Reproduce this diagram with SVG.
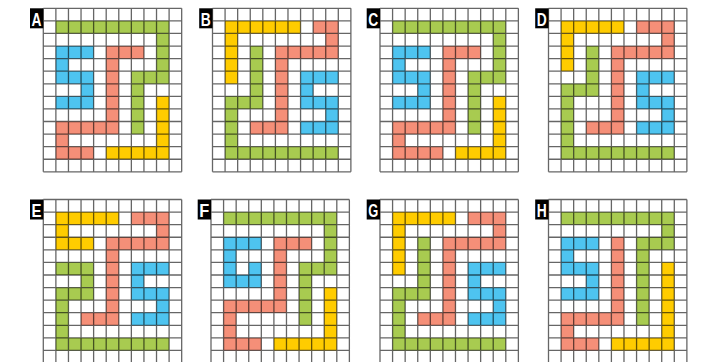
<svg xmlns="http://www.w3.org/2000/svg" xmlns:xlink="http://www.w3.org/1999/xlink" width="707" height="362" viewBox="0 0 707 362">
<style>
.g{fill:#A8CB50}
.b{fill:#4EC4F0}
.s{fill:#F58F78}
.y{fill:#FFCC00}
.grid{fill:none;stroke:#000;stroke-opacity:0.6;stroke-width:1.3}
.lbl{fill:#000}
.lt{fill:#fff;font-family:"Liberation Sans",Arial,sans-serif;font-weight:bold;font-size:19px;text-anchor:middle}
</style>
<defs>
<path id="gridlines" class="grid" vector-effect="non-scaling-stroke" d="M0 0V13M1 0V13M2 0V13M3 0V13M4 0V13M5 0V13M6 0V13M7 0V13M8 0V13M9 0V13M10 0V13M11 0V13M0 0H11M0 1H11M0 2H11M0 3H11M0 4H11M0 5H11M0 6H11M0 7H11M0 8H11M0 9H11M0 10H11M0 11H11M0 12H11M0 13H11"/>
<g id="cellsA_g" class="g"><rect x="1" y="1" width="9" height="1"/><rect x="9" y="2" width="1" height="4"/><rect x="7" y="5" width="2" height="1"/><rect x="7" y="6" width="1" height="4"/></g>
<g id="cellsA_b" class="b"><rect x="1" y="3" width="3" height="1"/><rect x="1" y="4" width="1" height="1"/><rect x="1" y="5" width="3" height="1"/><rect x="3" y="6" width="1" height="1"/><rect x="1" y="7" width="3" height="1"/></g>
<g id="cellsB_b" class="b"><rect x="7" y="5" width="3" height="1"/><rect x="7" y="6" width="1" height="1"/><rect x="7" y="7" width="3" height="1"/><rect x="9" y="8" width="1" height="1"/><rect x="7" y="9" width="3" height="1"/></g>
</defs>

<g id="nodeA">
<g transform="translate(43.3,8.3) scale(12.58)">
<use xlink:href="#cellsA_g"/>
<use xlink:href="#cellsA_b"/>
<g class="s"><rect x="5" y="3" width="3" height="1"/><rect x="5" y="4" width="1" height="6"/><rect x="1" y="9" width="4" height="1"/><rect x="1" y="10" width="1" height="1"/><rect x="1" y="11" width="3" height="1"/></g>
<g class="y"><rect x="9" y="7" width="1" height="4"/><rect x="5" y="11" width="5" height="1"/></g>
<use xlink:href="#gridlines"/>
</g>
<rect class="lbl" x="30" y="8.3" width="13.3" height="20"/>
<text class="lt" x="36.6" y="25.5" textLength="10" lengthAdjust="spacingAndGlyphs">A</text>
</g>

<g id="nodeB">
<g transform="translate(212.5,8.3) scale(12.58)">
<g class="y"><rect x="1" y="1" width="6" height="1"/><rect x="1" y="2" width="1" height="4"/></g>
<g class="s"><rect x="8" y="1" width="2" height="1"/><rect x="9" y="2" width="1" height="1"/><rect x="5" y="3" width="5" height="1"/><rect x="5" y="4" width="1" height="6"/><rect x="3" y="9" width="2" height="1"/></g>
<g class="g"><rect x="3" y="3" width="1" height="5"/><rect x="1" y="7" width="2" height="1"/><rect x="1" y="8" width="1" height="4"/><rect x="2" y="11" width="8" height="1"/></g>
<use xlink:href="#cellsB_b"/>
<use xlink:href="#gridlines"/>
</g>
<rect class="lbl" x="199.2" y="8.3" width="13.3" height="20"/>
<text class="lt" x="205.8" y="25.5" textLength="10" lengthAdjust="spacingAndGlyphs">B</text>
</g>

<g id="nodeC">
<g transform="translate(380,8.3) scale(12.58)">
<use xlink:href="#cellsA_g"/>
<use xlink:href="#cellsA_b"/>
<g class="s"><rect x="5" y="3" width="3" height="1"/><rect x="5" y="4" width="1" height="6"/><rect x="1" y="9" width="4" height="1"/><rect x="1" y="10" width="1" height="1"/><rect x="1" y="11" width="4" height="1"/></g>
<g class="y"><rect x="9" y="7" width="1" height="4"/><rect x="6" y="11" width="4" height="1"/></g>
<use xlink:href="#gridlines"/>
</g>
<rect class="lbl" x="366.7" y="8.3" width="13.3" height="20"/>
<text class="lt" x="373.3" y="25.5" textLength="10" lengthAdjust="spacingAndGlyphs">C</text>
</g>

<g id="nodeD">
<g transform="translate(548.5,8.3) scale(12.58)">
<g class="y"><rect x="1" y="1" width="5" height="1"/><rect x="1" y="2" width="1" height="3"/></g>
<g class="s"><rect x="7" y="1" width="3" height="1"/><rect x="9" y="2" width="1" height="1"/><rect x="5" y="3" width="5" height="1"/><rect x="5" y="4" width="1" height="6"/><rect x="3" y="9" width="2" height="1"/></g>
<g class="g"><rect x="3" y="3" width="1" height="4"/><rect x="1" y="6" width="2" height="1"/><rect x="1" y="7" width="1" height="5"/><rect x="2" y="11" width="8" height="1"/></g>
<use xlink:href="#cellsB_b"/>
<use xlink:href="#gridlines"/>
</g>
<rect class="lbl" x="535.2" y="8.3" width="13.3" height="20"/>
<text class="lt" x="541.8" y="25.5" textLength="10" lengthAdjust="spacingAndGlyphs">D</text>
</g>

<g id="nodeE">
<g transform="translate(43.3,199.5) scale(12.58)">
<g class="y"><rect x="1" y="1" width="5" height="1"/><rect x="1" y="2" width="1" height="1"/><rect x="1" y="3" width="3" height="1"/></g>
<g class="s"><rect x="7" y="1" width="3" height="1"/><rect x="9" y="2" width="1" height="1"/><rect x="5" y="3" width="5" height="1"/><rect x="5" y="4" width="1" height="6"/><rect x="3" y="9" width="2" height="1"/></g>
<g class="g"><rect x="1" y="5" width="3" height="1"/><rect x="3" y="6" width="1" height="1"/><rect x="1" y="7" width="3" height="1"/><rect x="1" y="8" width="1" height="4"/><rect x="2" y="11" width="8" height="1"/></g>
<use xlink:href="#cellsB_b"/>
<use xlink:href="#gridlines"/>
</g>
<rect class="lbl" x="30" y="199.5" width="13.3" height="20"/>
<text class="lt" x="36.6" y="216.7" textLength="10" lengthAdjust="spacingAndGlyphs">E</text>
</g>

<g id="nodeF">
<g transform="translate(211,199.5) scale(12.58)">
<use xlink:href="#cellsA_g"/>
<g class="b"><rect x="1" y="3" width="3" height="1"/><rect x="1" y="4" width="1" height="2"/><rect x="3" y="5" width="1" height="1"/><rect x="1" y="6" width="3" height="1"/></g>
<g class="s"><rect x="5" y="3" width="3" height="1"/><rect x="5" y="4" width="1" height="5"/><rect x="1" y="8" width="4" height="1"/><rect x="1" y="9" width="1" height="2"/><rect x="1" y="11" width="3" height="1"/></g>
<g class="y"><rect x="9" y="7" width="1" height="4"/><rect x="5" y="11" width="5" height="1"/></g>
<use xlink:href="#gridlines"/>
</g>
<rect class="lbl" x="197.7" y="199.5" width="13.3" height="20"/>
<text class="lt" x="204.3" y="216.7" textLength="10" lengthAdjust="spacingAndGlyphs">F</text>
</g>

<g id="nodeG">
<g transform="translate(380,199.5) scale(12.58)">
<g class="y"><rect x="1" y="1" width="5" height="1"/><rect x="1" y="2" width="1" height="4"/></g>
<g class="s"><rect x="7" y="1" width="3" height="1"/><rect x="9" y="2" width="1" height="1"/><rect x="5" y="3" width="5" height="1"/><rect x="5" y="4" width="1" height="6"/><rect x="3" y="9" width="2" height="1"/></g>
<g class="g"><rect x="3" y="3" width="1" height="5"/><rect x="1" y="7" width="2" height="1"/><rect x="1" y="8" width="1" height="4"/><rect x="2" y="11" width="8" height="1"/></g>
<use xlink:href="#cellsB_b"/>
<use xlink:href="#gridlines"/>
</g>
<rect class="lbl" x="366.7" y="199.5" width="13.3" height="20"/>
<text class="lt" x="373.3" y="216.7" textLength="10" lengthAdjust="spacingAndGlyphs">G</text>
</g>

<g id="nodeH">
<g transform="translate(548.5,199.5) scale(12.58)">
<g class="g"><rect x="1" y="1" width="9" height="1"/><rect x="9" y="2" width="1" height="1"/><rect x="7" y="3" width="3" height="1"/><rect x="7" y="4" width="1" height="6"/></g>
<use xlink:href="#cellsA_b"/>
<g class="s"><rect x="5" y="3" width="1" height="7"/><rect x="1" y="9" width="4" height="1"/><rect x="1" y="10" width="1" height="1"/><rect x="1" y="11" width="3" height="1"/></g>
<g class="y"><rect x="9" y="5" width="1" height="6"/><rect x="5" y="11" width="5" height="1"/></g>
<use xlink:href="#gridlines"/>
</g>
<rect class="lbl" x="535.2" y="199.5" width="13.3" height="20"/>
<text class="lt" x="541.8" y="216.7" textLength="10" lengthAdjust="spacingAndGlyphs">H</text>
</g>

<g id="connectors"/>
</svg>
